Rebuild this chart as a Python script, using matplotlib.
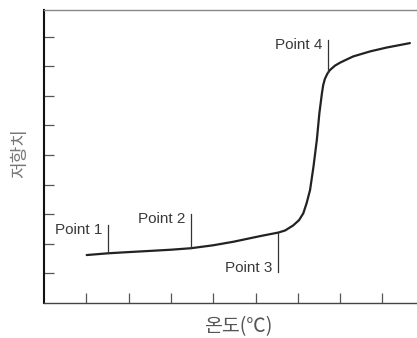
import matplotlib
matplotlib.use("Agg")
import matplotlib.pyplot as plt

# Curve data (temperature vs resistance, arbitrary units)
temp = [1.01, 1.52, 2.0, 2.51, 3.0, 3.47, 4.0, 4.48, 5.11, 5.54, 5.70, 5.89,
        6.03, 6.13, 6.21, 6.29, 6.37, 6.45, 6.51, 6.57, 6.60, 6.64, 6.70,
        6.76, 6.88, 7.00, 7.16, 7.31, 7.71, 8.10, 8.65]
resist = [1.62, 1.68, 1.72, 1.76, 1.80, 1.85, 1.95, 2.07, 2.26, 2.38, 2.45, 2.62,
          2.80, 3.03, 3.38, 3.82, 4.60, 5.51, 6.41, 7.08, 7.36, 7.57, 7.75,
          7.87, 8.02, 8.12, 8.23, 8.33, 8.50, 8.63, 8.78]

# Marked points: x, line start y, line end y
point_labels = ["Point 1", "Point 2", "Point 3", "Point 4"]
point_x = [1.52, 3.47, 5.54, 6.72]
point_y0 = [1.68, 1.85, 2.38, 7.82]
point_y1 = [2.64, 3.01, 1.06, 8.89]

x_ticks = [1, 2, 3, 4, 5, 6, 7, 8]
y_ticks = [1, 2, 3, 4, 5, 6, 7, 8, 9]

W, H = 417, 338
fig = plt.figure(figsize=(W / 100, H / 100), dpi=100)
ax = fig.add_axes([44 / W, 35 / H, (W - 44) / W, (303 - 10) / H])
ax.set_xlim(0, (W - 44) / 42.3)
ax.set_ylim(0, 293 / 29.6)

ax.plot(temp, resist, color="#222222", lw=1.6, solid_capstyle="round",
        solid_joinstyle="round")

for lab, x, y0, y1 in zip(point_labels, point_x, point_y0, point_y1):
    ax.plot([x, x], [y0, y1], color="#333333", lw=0.9)
    ytxt = (y1 - 0.17) if y1 > y0 else (y1 + 0.12)
    ax.text(x - 0.13, ytxt, lab, ha="right", va="center", fontsize=11,
            family="Liberation Sans", color="#3a3a3a")

ax.set_xticks(x_ticks)
ax.set_yticks(y_ticks)
ax.set_xticklabels([])
ax.set_yticklabels([])
ax.tick_params(axis="both", direction="in", length=7, width=0.9, color="#555555")

ax.spines["right"].set_visible(False)
ax.spines["left"].set_color("#111111")
ax.spines["left"].set_linewidth(1.5)
ax.spines["top"].set_color("#888888")
ax.spines["top"].set_linewidth(1.0)
ax.spines["bottom"].set_color("#444444")
ax.spines["bottom"].set_linewidth(1.0)

fig.text(20 / W, 1 - 153 / H, "저항치", rotation=90, ha="center", va="center",
         fontsize=13, family=["Noto Sans CJK KR", "DejaVu Sans"], color="#777777")
fig.text(238 / W, 1 - 327 / H, "온도(℃)", ha="center", va="center",
         fontsize=14, family=["Noto Sans CJK KR", "DejaVu Sans"], color="#555555")

fig.savefig("out.png", dpi=100)
